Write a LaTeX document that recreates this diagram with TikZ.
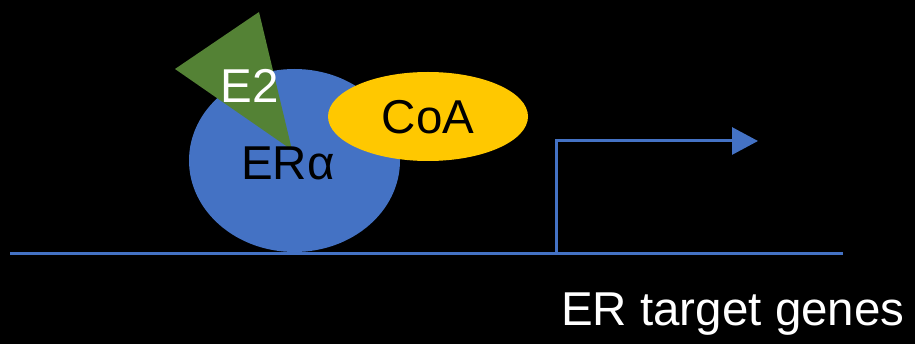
\documentclass[tikz,border=0pt]{standalone}
\usepackage{fontspec}
\setmainfont{Liberation Sans}
\usetikzlibrary{arrows.meta}

\definecolor{erblue}{RGB}{68,114,196}
\definecolor{egreen}{RGB}{84,130,53}
\definecolor{coayellow}{RGB}{255,200,0}

\tikzset{
  lbl/.style={font=\fontsize{47.5}{52}\selectfont, inner sep=0pt},
  dna/.style={draw=erblue, line width=3pt},
}

\begin{document}
\begin{tikzpicture}[x=1pt,y=1pt,yscale=-1]

% Background
\fill [black] (0,0) rectangle (915,344);
\useasboundingbox (0,0) rectangle (915,344);

% Receptor, ligand, coactivator
\fill [erblue] (294.5,160.5) ellipse [x radius=105.5, y radius=91.5];
\fill [egreen] (175,69) -- (259,12) -- (292,150) -- cycle;
\fill [coayellow] (428,116.5) ellipse [x radius=100, y radius=44.5];

\node [lbl, text=white] (e2) at (250,86) {E2};
\node [lbl, text=black] (era) at (288,163) {ERα};
\node [lbl, text=black] (coa) at (428,117) {CoA};

% DNA and promoter arrow
\coordinate (dnaL) at (10,254);
\coordinate (dnaR) at (843,254);
\coordinate (tss) at (556,254);
\coordinate (tssTop) at (556,141);
\coordinate (tssEnd) at (758,141);
\draw [dna] (dnaL) -- (dnaR);
\draw [dna, -{Triangle[length=26pt,width=27pt]}] (tss) -- (tssTop) -- (tssEnd);

\node [lbl, text=white, anchor=base west] (genes) at (561,326) {ER target genes};

\end{tikzpicture}
\end{document}
